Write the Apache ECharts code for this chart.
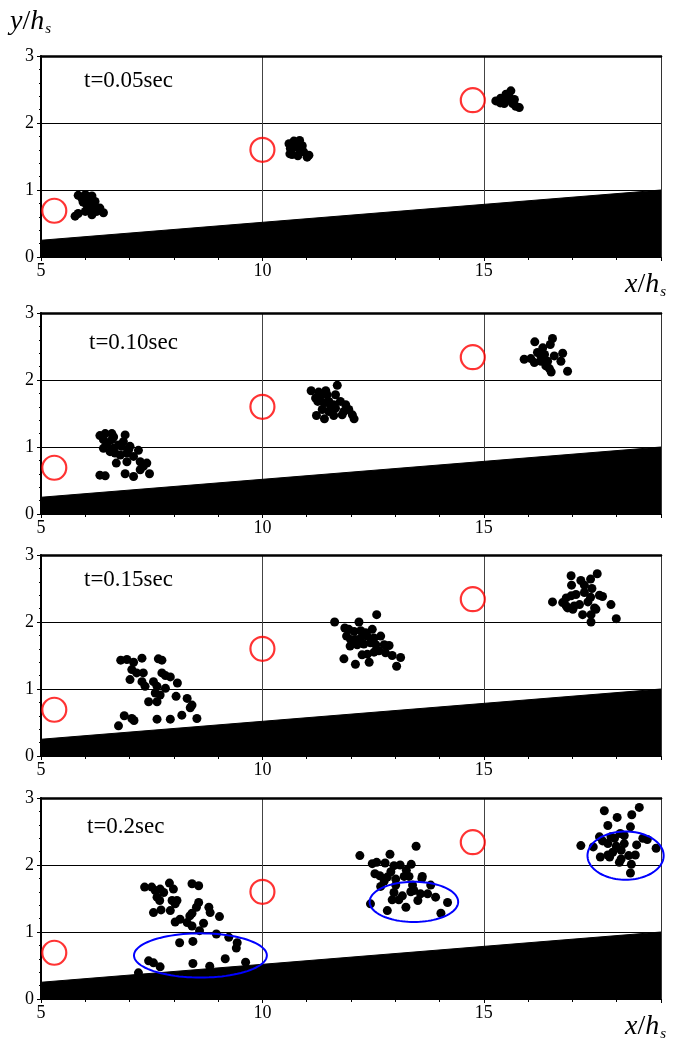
<!DOCTYPE html>
<html>
<head>
<meta charset="utf-8">
<script src="https://cdn.jsdelivr.net/npm/echarts@6.0.0/dist/echarts.min.js"></script>
<style>
  html, body { margin: 0; padding: 0; background: #fff; }
  #chart { width: 678px; height: 1043px; }
</style>
</head>
<body>
<div id="chart"></div>
<script>
// Axis ranges (x/h_s, y/h_s)
const xMin = 5, xMax = 19, xStep = 5;
const yMin = 0, yMax = 3, yStep = 1;

// Panel captions
const panelLabels = ['t=0.05sec', 't=0.10sec', 't=0.15sec', 't=0.2sec'];

// Sloping bed surface (x/h_s, y/h_s) at both ends of the section
const bedLine = [[5, 0.25], [19, 1.0]];

// Red reference markers, identical in every panel
const refMarks = [[5.3, 0.69], [10.0, 1.6], [14.75, 2.34]];

// Particle positions, t = 0.05 s
const dots005 = [
  [5.84,0.92],[6.00,0.93],[6.15,0.91],[5.92,0.88],[6.11,0.85],[6.22,0.83],[6.03,0.78],[6.18,0.75],
  [6.33,0.73],[6.26,0.68],[6.41,0.66],[5.84,0.65],[5.77,0.61],[6.15,0.63],[6.00,0.68],[6.07,0.90],
  [5.95,0.82],[6.10,0.70],
  [10.60,1.69],[10.71,1.73],[10.84,1.74],[10.63,1.62],[10.77,1.64],[10.90,1.66],[10.67,1.53],
  [10.80,1.51],[10.93,1.57],[11.05,1.52],[11.01,1.49],[10.86,1.58],[10.62,1.54],[10.75,1.70],
  [15.27,2.33],[15.38,2.37],[15.50,2.43],[15.61,2.48],[15.57,2.39],[15.46,2.29],[15.65,2.29],
  [15.72,2.25],[15.80,2.23],[15.37,2.30],[15.54,2.34],[15.69,2.35]
];

// Particle positions, t = 0.10 s
const dots010 = [
  [6.33,1.17],[6.45,1.20],[6.60,1.20],[6.41,1.11],[6.50,1.06],[6.64,1.15],[6.90,1.18],[6.86,1.08],
  [6.41,0.98],[6.64,0.98],[6.75,1.03],[6.82,1.01],[7.01,1.01],[7.20,0.95],[6.56,0.93],[6.67,0.91],
  [6.79,0.88],[6.94,0.91],[7.09,0.86],[7.24,0.78],[7.39,0.76],[7.31,0.71],[6.70,0.76],[6.94,0.78],
  [6.33,0.58],[6.45,0.57],[6.90,0.60],[7.09,0.56],[7.24,0.66],[7.45,0.60],[6.60,1.11],[6.98,0.96],
  [11.10,1.84],[11.27,1.82],[11.43,1.84],[11.69,1.92],[11.20,1.73],[11.31,1.76],[11.46,1.78],
  [11.65,1.78],[11.25,1.68],[11.39,1.66],[11.50,1.68],[11.61,1.63],[11.76,1.68],[11.88,1.63],
  [11.35,1.56],[11.50,1.53],[11.65,1.58],[11.84,1.53],[11.95,1.56],[11.22,1.47],[11.40,1.42],
  [11.61,1.47],[11.80,1.48],[12.03,1.48],[12.07,1.42],[11.54,1.61],
  [16.15,2.57],[16.55,2.62],[16.50,2.53],[16.33,2.48],[15.91,2.31],[16.06,2.32],[16.21,2.41],
  [16.37,2.38],[16.14,2.26],[16.29,2.28],[16.44,2.28],[16.59,2.36],[16.74,2.28],[16.48,2.17],
  [16.52,2.12],[16.78,2.40],[16.89,2.13],[16.29,2.35],[16.40,2.21]
];

// Particle positions, t = 0.15 s
const dots015 = [
  [6.80,1.43],[6.94,1.44],[7.09,1.40],[7.28,1.46],[7.65,1.45],[7.73,1.43],[7.05,1.29],[7.01,1.14],
  [7.16,1.24],[7.31,1.24],[7.28,1.11],[7.35,1.04],[7.54,1.11],[7.73,1.24],[7.81,1.20],[7.92,1.18],
  [7.62,1.04],[7.81,1.01],[8.08,1.09],[7.58,0.94],[7.69,0.91],[7.43,0.81],[7.62,0.81],[8.05,0.89],
  [8.30,0.86],[8.41,0.76],[8.37,0.72],[8.18,0.61],[8.52,0.56],[7.92,0.55],[7.62,0.55],[6.88,0.60],
  [7.05,0.56],[7.10,0.53],[6.75,0.45],
  [11.63,2.00],[12.18,2.00],[12.58,2.11],[11.86,1.91],[11.95,1.89],[12.07,1.86],[12.22,1.87],
  [12.33,1.84],[12.48,1.89],[11.90,1.79],[11.99,1.74],[12.10,1.74],[12.22,1.76],[12.37,1.79],
  [12.52,1.76],[12.67,1.79],[11.98,1.64],[12.14,1.66],[12.29,1.67],[12.44,1.69],[12.56,1.66],
  [12.75,1.66],[12.86,1.65],[12.25,1.51],[12.37,1.52],[12.52,1.55],[12.63,1.57],[12.78,1.54],
  [12.93,1.50],[13.12,1.47],[11.84,1.45],[12.10,1.37],[12.41,1.40],[13.03,1.34],
  [16.97,2.69],[17.19,2.62],[17.41,2.64],[17.56,2.72],[16.98,2.55],[17.27,2.55],[17.44,2.50],
  [16.55,2.30],[16.78,2.29],[16.86,2.36],[16.97,2.39],[17.08,2.41],[17.27,2.44],[17.41,2.37],
  [17.61,2.40],[17.68,2.38],[16.89,2.21],[17.01,2.19],[17.16,2.26],[17.35,2.30],[17.50,2.21],
  [17.87,2.26],[17.23,2.11],[17.42,2.11],[17.53,2.19],[17.42,2.00],[17.99,2.05],[17.04,2.24],
  [16.86,2.24]
];

// Particle positions, t = 0.2 s
const dots020 = [
  [7.34,1.67],[7.50,1.67],[7.58,1.62],[7.69,1.64],[7.77,1.59],[7.90,1.73],[7.99,1.64],[7.62,1.52],
  [7.68,1.47],[7.96,1.47],[8.07,1.47],[8.03,1.42],[7.92,1.32],[7.54,1.29],[7.71,1.33],[8.41,1.72],
  [8.56,1.69],[8.56,1.44],[8.51,1.37],[8.79,1.37],[8.82,1.29],[8.41,1.28],[8.36,1.24],[8.14,1.19],
  [8.03,1.15],[8.30,1.14],[8.41,1.09],[8.67,1.13],[9.03,1.23],[8.58,1.02],[8.96,0.97],[9.24,0.92],
  [9.43,0.84],[9.41,0.76],[8.13,0.84],[8.43,0.86],[7.43,0.57],[7.54,0.54],[7.69,0.48],[8.43,0.53],
  [8.81,0.49],[9.16,0.60],[9.62,0.55],[7.20,0.39],
  [12.20,2.14],[12.88,2.16],[13.47,2.28],[12.48,2.02],[12.58,2.04],[12.77,2.03],[12.97,1.99],
  [13.11,2.00],[13.36,2.01],[12.54,1.87],[12.65,1.84],[12.82,1.82],[13.01,1.79],[13.20,1.83],
  [13.31,1.83],[13.61,1.83],[12.67,1.68],[13.01,1.70],[13.39,1.70],[13.80,1.70],[12.97,1.59],
  [13.16,1.54],[13.35,1.60],[13.42,1.62],[13.57,1.57],[13.73,1.57],[13.91,1.52],[14.18,1.44],
  [12.44,1.42],[12.82,1.32],[13.08,1.48],[13.24,1.37],[13.51,1.47],[14.03,1.28],[12.93,1.48],
  [12.75,1.76],[13.60,1.80],[12.90,1.90],[13.25,1.92],
  [17.72,2.81],[18.51,2.86],[18.01,2.71],[18.34,2.75],[17.80,2.59],[18.31,2.57],[18.08,2.47],
  [17.61,2.42],[17.87,2.42],[18.17,2.44],[18.59,2.40],[18.69,2.38],[17.19,2.29],[17.47,2.27],
  [17.80,2.32],[17.99,2.28],[18.17,2.32],[18.89,2.25],[17.63,2.12],[17.80,2.15],[17.91,2.19],
  [18.10,2.22],[18.27,2.14],[18.42,2.15],[18.06,2.04],[18.33,2.01],[18.31,1.88],[18.10,2.09],
  [17.84,2.12],[17.68,2.36],[18.45,2.30],[17.95,2.40]
];

// Blue ellipses at t = 0.2 s: centre x, centre y, half-width, half-height (data units)
const ellipses020 = [[8.6, 0.65, 1.5, 0.33], [13.42, 1.45, 1.0, 0.30], [18.2, 2.14, 0.86, 0.36]];

const panelDots = [dots005, dots010, dots015, dots020];

// Plot-area placement of the four stacked panels
const panelTops = [56, 313, 555, 798];
const plotLeft = 41, plotWidth = 620, plotHeight = 201;

const serif = 'Liberation Serif, Times New Roman, serif';

const grids = [], xAxes = [], yAxes = [], series = [];

panelTops.forEach((top, i) => {
  grids.push({ left: plotLeft, top: top, width: plotWidth, height: plotHeight, containLabel: false });

  // bottom value axis with ticks and labels
  xAxes.push({
    type: 'value', gridIndex: i, min: xMin, max: xMax, interval: xStep, position: 'bottom',
    axisLine: { show: true, onZero: false, lineStyle: { color: '#000', width: 1 } },
    axisTick: { show: true, inside: false, length: 4, lineStyle: { color: '#000' } },
    minorTick: { show: true, splitNumber: 5, length: 3, lineStyle: { color: '#000' } },
    axisLabel: {
      color: '#000', fontFamily: serif, fontSize: 18, margin: 5,
      formatter: v => (v >= xMax ? '' : String(v))
    },
    splitLine: { show: true, showMinLine: false, showMaxLine: false, lineStyle: { color: '#444', width: 1 } }
  });
  // top frame line
  xAxes.push({
    type: 'value', gridIndex: i, min: xMin, max: xMax, position: 'top',
    axisLine: { show: true, onZero: false, lineStyle: { color: '#000', width: 2.5 } },
    axisTick: { show: false }, axisLabel: { show: false }, splitLine: { show: false }
  });

  // left value axis
  yAxes.push({
    type: 'value', gridIndex: i, min: yMin, max: yMax, interval: yStep, position: 'left',
    axisLine: { show: true, onZero: false, lineStyle: { color: '#000', width: 2 } },
    axisTick: { show: true, inside: false, length: 4, lineStyle: { color: '#000' } },
    minorTick: { show: true, splitNumber: 5, length: 2, lineStyle: { color: '#000' } },
    axisLabel: { color: '#000', fontFamily: serif, fontSize: 18, margin: 7 },
    splitLine: { show: true, showMinLine: false, showMaxLine: false, lineStyle: { color: '#000', width: 1 } }
  });
  // right frame line
  yAxes.push({
    type: 'value', gridIndex: i, min: yMin, max: yMax, position: 'right',
    axisLine: { show: true, onZero: false, lineStyle: { color: '#333', width: 1 } },
    axisTick: { show: false }, axisLabel: { show: false }, splitLine: { show: false }
  });

  const xi = 2 * i, yi = 2 * i;

  // sloping bed, filled down to y = 0
  series.push({
    type: 'line', xAxisIndex: xi, yAxisIndex: yi, data: bedLine,
    symbol: 'none', silent: true, z: 2,
    lineStyle: { color: '#000', width: 1 },
    areaStyle: { color: '#000', opacity: 1 }
  });

  // particles
  series.push({
    type: 'scatter', xAxisIndex: xi, yAxisIndex: yi, data: panelDots[i],
    symbol: 'circle', symbolSize: 9, z: 4,
    itemStyle: { color: '#000', opacity: 1 }
  });

  // red reference rings
  series.push({
    type: 'scatter', xAxisIndex: xi, yAxisIndex: yi, data: refMarks,
    symbol: 'circle', symbolSize: 24, z: 5,
    itemStyle: { color: 'rgba(0,0,0,0)', borderColor: '#ff0000', borderWidth: 2.2 }
  });
});

// blue ellipses in the last panel, sized through the axis scales
series.push({
  type: 'custom', xAxisIndex: 6, yAxisIndex: 6, data: ellipses020, z: 6,
  clip: false,
  renderItem: (params, api) => {
    const c = api.coord([api.value(0), api.value(1)]);
    const s = api.size([api.value(2), api.value(3)]);
    const pts = [];
    const n = 96;
    for (let k = 0; k < n; k++) {
      const a = (k / n) * Math.PI * 2;
      pts.push([c[0] + s[0] * Math.cos(a), c[1] + s[1] * Math.sin(a)]);
    }
    return {
      type: 'polygon', shape: { points: pts },
      style: { fill: 'none', stroke: '#0000ff', lineWidth: 2 }
    };
  }
});

// captions and axis titles
const graphics = [];
const captionPos = [[84, 81], [89, 343], [84, 580], [87, 827]];
panelLabels.forEach((t, i) => {
  graphics.push({
    type: 'text', x: captionPos[i][0], y: captionPos[i][1], z: 10,
    style: { text: t, font: '23px ' + serif, fill: '#000', verticalAlign: 'middle', align: 'left' }
  });
});

const titleRich = {
  v: { fontFamily: serif, fontStyle: 'italic', fontSize: 28, color: '#000' },
  sl: { fontFamily: serif, fontSize: 28, color: '#000' },
  s: { fontFamily: serif, fontStyle: 'italic', fontSize: 15, color: '#000', padding: [14, 0, 0, 1] }
};
graphics.push({
  type: 'text', x: 10, y: 22, z: 10,
  style: { text: '{v|y}{sl|/}{v|h}{s|s}', rich: titleRich, verticalAlign: 'middle', align: 'left' }
});
[285, 1027].forEach(yy => {
  graphics.push({
    type: 'text', x: 666, y: yy, z: 10,
    style: { text: '{v|x}{sl|/}{v|h}{s|s}', rich: titleRich, verticalAlign: 'middle', align: 'right' }
  });
});

const chart = echarts.init(document.getElementById('chart'), null, { renderer: 'canvas' });
chart.setOption({
  animation: false,
  backgroundColor: '#fff',
  grid: grids,
  xAxis: xAxes,
  yAxis: yAxes,
  series: series,
  graphic: graphics
});
</script>
</body>
</html>
